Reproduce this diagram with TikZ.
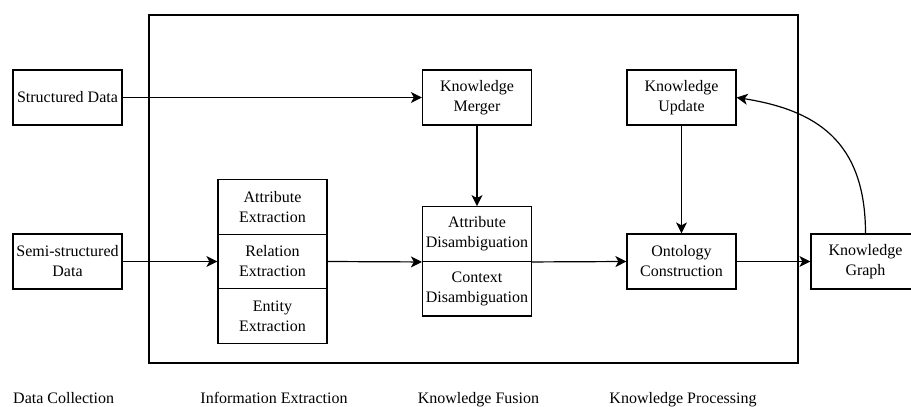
\documentclass[tikz,border=0pt]{standalone}
\usepackage{fontspec}
\setmainfont{Liberation Serif}
\usetikzlibrary{arrows.meta}
\begin{document}
\begin{tikzpicture}[x=1pt,y=-1pt,
  box/.style={draw=black,line width=1.2pt,minimum width=109pt,minimum height=55pt,inner sep=0pt,align=center,font=\fontsize{16}{20}\selectfont},
  cell/.style={box,minimum height=54.7pt},
  lbl/.style={anchor=base,inner sep=0pt,font=\fontsize{16}{20}\selectfont},
  arr/.style={line width=1.2pt,-{Stealth[length=11pt,width=11pt,inset=3pt]}}]
\useasboundingbox (0,0) rectangle (911,407);
\draw[line width=1.2pt] (149,15) rectangle (798,363);
\node[box] (sd) at (67.5,97.5) {Structured Data};
\node[box] (ssd) at (67.5,261.5) {Semi-structured\\Data};
\node[cell] (ae) at (272.5,206.8) {Attribute\\Extraction};
\node[cell] (re) at (272.5,261.5) {Relation\\Extraction};
\node[cell] (ee) at (272.5,316.2) {Entity\\Extraction};
\node[box] (km) at (477,97.5) {Knowledge\\Merger};
\node[cell] (ad) at (477,234) {Attribute\\Disambiguation};
\node[cell] (cd) at (477,288.7) {Context\\Disambiguation};
\node[box] (ku) at (681.5,97.5) {Knowledge\\Update};
\node[box] (oc) at (681.5,261.5) {Ontology\\Construction};
\node[box] (kg) at (865.5,261.5) {Knowledge\\Graph};
\draw[arr] (sd.east) -- (km.west);
\draw[arr] (ssd.east) -- (re.west);
\draw[arr] (re.east) -- (ad.south west);
\draw[arr] (km.south) -- (ad.north);
\draw[arr] (ad.south east) -- (oc.west);
\draw[arr] (ku.south) -- (oc.north);
\draw[arr] (oc.east) -- (kg.west);
\draw[arr] (kg.north) .. controls (865.5,140) and (815,110) .. (ku.east);
\node[lbl,anchor=base west] (l1) at (13,403) {Data Collection};
\node[lbl] (l2) at (274,403) {Information Extraction};
\node[lbl] (l3) at (478.5,403) {Knowledge Fusion};
\node[lbl] (l4) at (683,403) {Knowledge Processing};
\end{tikzpicture}
\end{document}
